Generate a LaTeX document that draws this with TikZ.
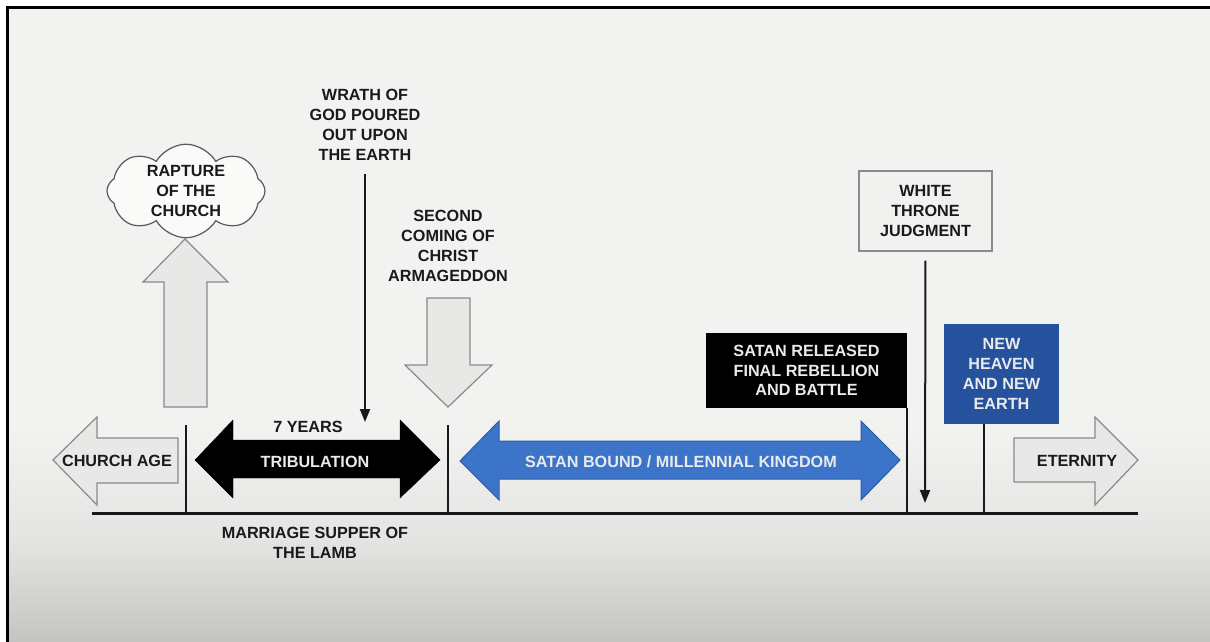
\documentclass[tikz,border=0pt]{standalone}
\usepackage{fontspec}
\setmainfont{Liberation Sans}
\usetikzlibrary{shapes.symbols,arrows.meta}
\definecolor{bgtop}{HTML}{F2F2F0}
\definecolor{bgmid}{HTML}{E4E4E2}
\definecolor{bgbot}{HTML}{C4C4C3}
\definecolor{arrgrey}{HTML}{E8E8E6}
\definecolor{edgegrey}{HTML}{8A8A8A}
\definecolor{txt}{HTML}{1A1A1A}
\definecolor{blueA}{HTML}{3C74C9}
\definecolor{blueAedge}{HTML}{2B5BA8}
\definecolor{blueB}{HTML}{25519D}
\definecolor{wtxt}{HTML}{EAEAEA}
\begin{document}
\begin{tikzpicture}[x=1pt,y=-1pt,
  lbl/.style={inner sep=0pt, align=center, font=\fontsize{16.2}{19.8}\selectfont\bfseries, text=txt},
  wlbl/.style={lbl, text=wtxt},
  greyarrow/.style={fill=arrgrey, draw=edgegrey, line width=1.2pt, line join=miter},
  tickline/.style={line width=2pt, draw=black!90},
  pointer/.style={line width=2pt, draw=black!90, -{Triangle[length=13pt,width=10pt]}},
  boxnode/.style={inner sep=0pt, align=center, font=\fontsize{16.2}{19.8}\selectfont\bfseries}]
\useasboundingbox (0,0) rectangle (1210,642);
% background
\fill[white] (0,0) rectangle (1210,642);
\fill[bgtop] (7,8) rectangle (1210,430);
\shade[top color=bgtop, bottom color=bgmid] (7,430) rectangle (1210,540);
\shade[top color=bgmid, bottom color=bgbot] (7,540) rectangle (1210,642);
\draw[line width=3pt, black] (7,642) -- (7,8) -- (1210,8);

% timeline
\coordinate (tlL) at (92,513);
\coordinate (tlR) at (1138,513);
\draw[line width=3pt, black!90] (tlL) -- (tlR);

% church age arrow
\draw[greyarrow] (53,460) -- (97,417) -- (97,438) -- (178,438) -- (178,483) -- (97,483) -- (97,505) -- cycle;
\node[lbl] (churchage) at (117,461) {CHURCH AGE};

% rapture
\draw[greyarrow] (185,239) -- (228,282) -- (207,282) -- (207,407) -- (164,407) -- (164,282) -- (143,282) -- cycle;
\node[cloud, cloud puffs=8, cloud puff arc=120, aspect=1.7, draw=black!65, fill=white!60!bgtop,
      line width=1.2pt, minimum width=158pt, minimum height=92pt, lbl] (rapture) at (186,191) {RAPTURE\\OF THE\\CHURCH};

% tick after church age
\coordinate (t1) at (186,425);
\draw[tickline] (t1) -- (t1 |- tlL);

% wrath of God
\node[lbl] (wrath) at (365,125) {WRATH OF\\GOD POURED\\OUT UPON\\THE EARTH};
\coordinate (wrathend) at (365,422);
\draw[pointer, shorten <=13pt] (wrath.south) -- (wrathend);

% tribulation
\draw[fill=black, draw=black, line join=miter] (195,460) -- (233,420) -- (233,440) -- (400,440) -- (400,420) -- (440,460) -- (400,498) -- (400,478) -- (233,478) -- (233,498) -- cycle;
\node[wlbl] (trib) at (315,462) {TRIBULATION};
\node[lbl] (sevenyears) at (308,427) {7 YEARS};
\node[lbl] (marriage) at (315,543) {MARRIAGE SUPPER OF\\THE LAMB};

% second coming
\node[lbl] (second) at (448,246) {SECOND\\COMING OF\\CHRIST\\ARMAGEDDON};
\draw[greyarrow] (427,298) -- (470,298) -- (470,365) -- (492,365) -- (448,407) -- (405,365) -- (427,365) -- cycle;
\coordinate (t2) at (448,425);
\draw[tickline] (t2) -- (t2 |- tlL);

% millennial kingdom
\draw[fill=blueA, draw=blueAedge, line width=1pt, line join=miter] (460,461) -- (499,421) -- (499,441) -- (861,441) -- (861,421) -- (900,460) -- (861,500) -- (861,479) -- (499,479) -- (499,500) -- cycle;
\node[wlbl] (millennial) at (681,462) {SATAN BOUND / MILLENNIAL KINGDOM};

% satan released
\node[boxnode, fill=black, text=wtxt, minimum width=201pt, minimum height=75pt] (satan) at (806.5,370.5) {SATAN RELEASED\\FINAL REBELLION\\AND BATTLE};
\draw[tickline] (satan.south east) -- (satan.south east |- tlL);

% white throne judgment
\node[boxnode, fill=white!40!arrgrey, draw=edgegrey, line width=1.2pt, text=txt, minimum width=133pt, minimum height=80pt] (wtj) at (925.5,211) {WHITE\\THRONE\\JUDGMENT};
\coordinate (wtjend) at (925,503);
\draw[pointer, shorten <=9pt] (wtj.south) -- (wtjend);

% new heaven and new earth
\node[boxnode, fill=blueB, text=wtxt, minimum width=115pt, minimum height=100pt] (newheaven) at (1001.5,374) {NEW\\HEAVEN\\AND NEW\\EARTH};
\coordinate (t4) at (984,424);
\draw[tickline] (t4) -- (t4 |- tlL);

% eternity
\draw[greyarrow] (1014,438) -- (1095,438) -- (1095,417) -- (1138,460) -- (1095,505) -- (1095,482) -- (1014,482) -- cycle;
\node[lbl] (eternity) at (1077,461) {ETERNITY};
\end{tikzpicture}
\end{document}
